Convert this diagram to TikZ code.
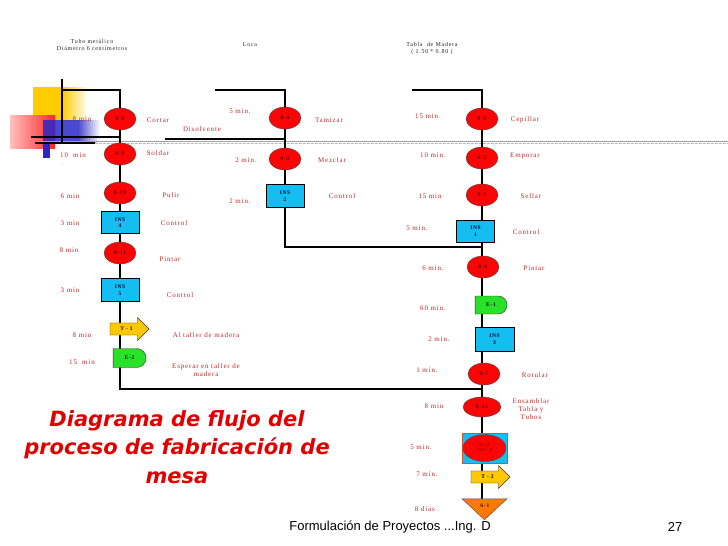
\documentclass[tikz,border=0pt]{standalone}
\usepackage{fontspec}
\setmainfont{Liberation Serif}
\newfontfamily\lblfont[LetterSpace=12]{Liberation Serif}
\newfontfamily\titlefont{DejaVu Sans}
\newfontfamily\footfont{Liberation Sans}
\usepackage{tikz}
\usetikzlibrary{shapes.geometric, shapes.arrows, shapes.misc, backgrounds}
\definecolor{opred}{RGB}{250,5,5}
\definecolor{inscyan}{RGB}{20,190,240}
\definecolor{transgold}{RGB}{255,200,0}
\definecolor{espgreen}{RGB}{40,225,40}
\definecolor{almorange}{RGB}{255,120,0}
\definecolor{combborder}{RGB}{200,90,50}
\definecolor{lblred}{RGB}{190,40,40}
\definecolor{titlered}{RGB}{225,0,0}
\definecolor{decoyellow}{RGB}{255,204,0}
\definecolor{decoblue}{RGB}{40,40,200}
\definecolor{optext}{RGB}{90,0,0}

\begin{document}
\begin{tikzpicture}[x=1pt, y=-1pt,
      oper/.style={ellipse, draw=black!70, fill=opred, minimum width=32pt,
                   minimum height=22pt, inner sep=0pt, text=optext,
                   font=\lblfont\fontsize{5.5}{6}\selectfont\bfseries},
      insp/.style={rectangle, draw=black, fill=inscyan, minimum width=38pt,
                   minimum height=22pt, inner sep=0pt, align=center,
                   text=blue!20!black, font=\lblfont\fontsize{5.5}{6.5}\selectfont\bfseries},
      trans/.style={single arrow, draw=black!80, fill=transgold,
                    single arrow head extend=5.5pt, minimum height=39pt,
                    inner xsep=3pt, inner ysep=4pt,
                    font=\lblfont\fontsize{5.5}{6}\selectfont\bfseries},
      espera/.style={rounded rectangle, rounded rectangle west arc=none,
                     draw=black!80, fill=espgreen, minimum width=33pt,
                     minimum height=19pt, inner sep=0pt,
                     font=\lblfont\fontsize{5.5}{6}\selectfont\bfseries},
      almac/.style={isosceles triangle, isosceles triangle stretches,
                    shape border rotate=270, draw=black!70, fill=almorange,
                    minimum width=45pt, minimum height=21pt, inner sep=0pt,
                    text=optext, font=\lblfont\fontsize{5.5}{6}\selectfont\bfseries},
      tiempo/.style={text=lblred, inner sep=0pt, align=center,
                     font=\lblfont\fontsize{7}{8}\selectfont},
      encab/.style={text=black!85, inner sep=0pt, align=center,
                    font=\lblfont\fontsize{6}{7}\selectfont},
      flujo/.style={line width=1.6pt, black}
    ]
    \useasboundingbox (0,0) rectangle (728,546);

    \node[encab] (htubo) at (92,45) {Tubo metálico \\ Diámetro 6 centímetros};
    \node[encab] (hloca) at (250,45) {Loca};
    \node[encab] (htabla) at (432,49) {Tabla \ de Madera \\ ( 1.50 * 0.80 )};

    \coordinate (ini1) at (62,90);
    \coordinate (k1) at (120,90);
    \coordinate (ini2) at (215,90);
    \coordinate (k2) at (285,90);
    \coordinate (ini3) at (412,90);
    \coordinate (k3) at (482,90);
    \coordinate (dis) at (165,139);
    \coordinate (j1) at (120,389);
    \coordinate (j2) at (285,247);

    \node[oper] (o8) at (120,119) {0-8};
    \node[oper] (o9) at (120,154) {0-9};
    \node[oper] (o10) at (120,193) {0-10};
    \node[insp] (ins4) at (120,222.5) {INS \\ 4};
    \node[oper] (o11) at (120,253) {0-11};
    \node[insp, minimum height=23pt] (ins5) at (120,290) {INS \\ 5};
    \node[trans] (t1) at (126.5,329) {T - 1};
    \node[espera] (e2) at (129.5,358) {E-2};

    \node[oper] (o4) at (285,118) {0-4};
    \node[oper] (o5) at (285,159) {0-5};
    \node[insp, minimum height=23pt] (ins2) at (285,196) {INS \\ 2};

    \node[oper] (o1) at (482,119) {0-1};
    \node[oper] (o2) at (482,158) {0-2};
    \node[oper] (o3) at (482,195) {0-3};
    \node[insp] (ins1) at (475.5,231) {INS \\ 1};
    \node[oper] (o6) at (483,267) {0-6};
    \node[espera, minimum width=32pt, minimum height=18pt] (e1) at (491,305) {E-1};
    \node[insp, minimum width=39pt, minimum height=24pt] (ins3) at (494.5,339) {INS \\ 3};
    \node[oper] (o7) at (484,374) {0-7};
    \node[oper, minimum width=38pt, minimum height=20pt] (o12) at (482,407) {0-12};
    \node[rectangle, draw=combborder, line width=1pt, fill=inscyan,
          minimum width=45pt, minimum height=30pt] (ins6) at (484.5,448) {};
    \node[oper, minimum width=43pt, minimum height=27pt,
          font=\lblfont\fontsize{4.5}{5}\selectfont, align=center]
          (o13) at (484.5,448) {0-13 \\ INS - 6};
    \node[trans] (t2) at (487.5,477) {T - 2};
    \node[almac] (a1) at (484.5,506) {A-1};

    \node[tiempo] (l8a) at (82,119) {8 min};
    \node[tiempo] (l10a) at (73,155) {10 \ min};
    \node[tiempo, font=\lblfont\fontsize{5}{6}\selectfont] (lpt) at (62,165) {.};
    \node[tiempo] (l6a) at (70,196) {6 min};
    \node[tiempo] (l3a) at (70,223) {3 min};
    \node[tiempo] (l8b) at (69,250) {8 min};
    \node[tiempo] (l3b) at (70,290) {3 min};
    \node[tiempo] (l8c) at (82,335) {8 min};
    \node[tiempo] (l15a) at (82,362) {15 \ min};
    \node[tiempo] (acort) at (158,120) {Cortar};
    \node[tiempo] (asold) at (158,153) {Soldar};
    \node[tiempo] (adis) at (202,129) {Disolvente};
    \node[tiempo] (apul) at (171,195) {Pulir};
    \node[tiempo] (actl4) at (174,223) {Control};
    \node[tiempo] (apin1) at (170,259) {Pintar};
    \node[tiempo] (actl5) at (180,295) {Control};
    \node[tiempo] (atall) at (206,335) {Al taller de madera};
    \node[tiempo] (aesp) at (206,370) {Esperar en taller de \\ madera};

    \node[tiempo] (l5b) at (240,111) {5 min.};
    \node[tiempo] (atam) at (329,120) {Tamizar};
    \node[tiempo] (l2a) at (246,160) {2 min.};
    \node[tiempo] (amez) at (332,160) {Mezclar};
    \node[tiempo] (actl2) at (342,196) {Control};
    \node[tiempo] (l2b) at (240,201) {2 min.};

    \node[tiempo] (l15b) at (428,116) {15 min.};
    \node[tiempo] (acep) at (525,120) {Cepillar};
    \node[tiempo] (l10b) at (433,155) {10 min.};
    \node[tiempo] (aemp) at (525,156) {Emporar};
    \node[tiempo] (l15c) at (430,196) {15 min};
    \node[tiempo] (asel) at (531,196) {Sellar};
    \node[tiempo] (l5c) at (417,228) {5 min.};
    \node[tiempo] (actl1) at (526,232) {Control};
    \node[tiempo] (l6b) at (433,268) {6 min.};
    \node[tiempo] (apin2) at (534,268) {Pintar};
    \node[tiempo] (l60) at (433,308) {60 min.};
    \node[tiempo] (l2c) at (439,339) {2 min.};
    \node[tiempo] (l1) at (427,370) {1 min.};
    \node[tiempo] (arot) at (535,375) {Rotular};
    \node[tiempo] (l8d) at (434,406) {8 min};
    \node[tiempo] (aens) at (531,409) {Ensamblar \\ Tabla y \\ Tubos};
    \node[tiempo] (l5d) at (421,447) {5 min.};
    \node[tiempo] (l7) at (427,474) {7 min.};
    \node[tiempo] (l8dias) at (427,509) {8 dias .};

    \node[text=titlered, align=center,
          font=\titlefont\bfseries\itshape\fontsize{21}{28.5}\selectfont]
          (titulo) at (177,447) {Diagrama de flujo del \\ proceso de fabricación de \\ mesa};
    \node[font=\footfont\fontsize{13}{15}\selectfont] (pie) at (390,527)
          {Formulación de Proyectos ...Ing. D};
    \node[font=\footfont\fontsize{13}{15}\selectfont] (pag) at (675,527) {27};

    \begin{scope}[on background layer]
      \fill[white] (0,0) rectangle (728,546);
      \fill[decoyellow] (33,87) rectangle (62,120);
      \shade[left color=decoyellow, right color=white] (62,87) rectangle (88,120);
      \shade[left color=red!25, right color=red!85] (10,115) rectangle (55,148);
      \fill[decoblue, opacity=0.85] (43,120) rectangle (78,143);
      \shade[left color=decoblue, right color=white, opacity=0.85] (78,120) rectangle (100,143);
      \fill[decoblue] (43,143) rectangle (50,158);
      \draw[gray!75, line width=1.4pt] (35,141.3) -- (728,141.3);
      \draw[gray!55, line width=1.4pt, dash pattern=on 3pt off 1pt] (35,143.6) -- (728,143.6);
      \draw[line width=1.3pt] (62,79) -- (62,142);
      \draw[line width=1.3pt] (31,137) -- (120,137);
      \draw[line width=1.3pt] (35,143) -- (95,143);

      \draw[flujo] (ini1) -- (k1) -- (o8.center) -- (o9.center) -- (o10.center)
        -- (ins4.center) -- (o11.center) -- (ins5.center) -- (ins5 |- e2) -- (j1) -- (j1 -| k3);
      \draw[flujo] (ini2) -- (k2) -- (o4.center) -- (o5.center) -- (ins2.center)
        -- (j2) -- (j2 -| k3);
      \draw[flujo] (dis) -- (dis -| o4);
      \draw[flujo] (ini3) -- (k3) -- (o1.center) -- (o2.center) -- (o3.center)
        -- (k3 |- ins1) -- (k3 |- o6) -- (k3 |- e1) -- (k3 |- o7) -- (o12.center)
        -- (k3 |- ins6) -- (k3 |- t2) -- (k3 |- a1);
    \end{scope}
  \end{tikzpicture}
\end{document}
